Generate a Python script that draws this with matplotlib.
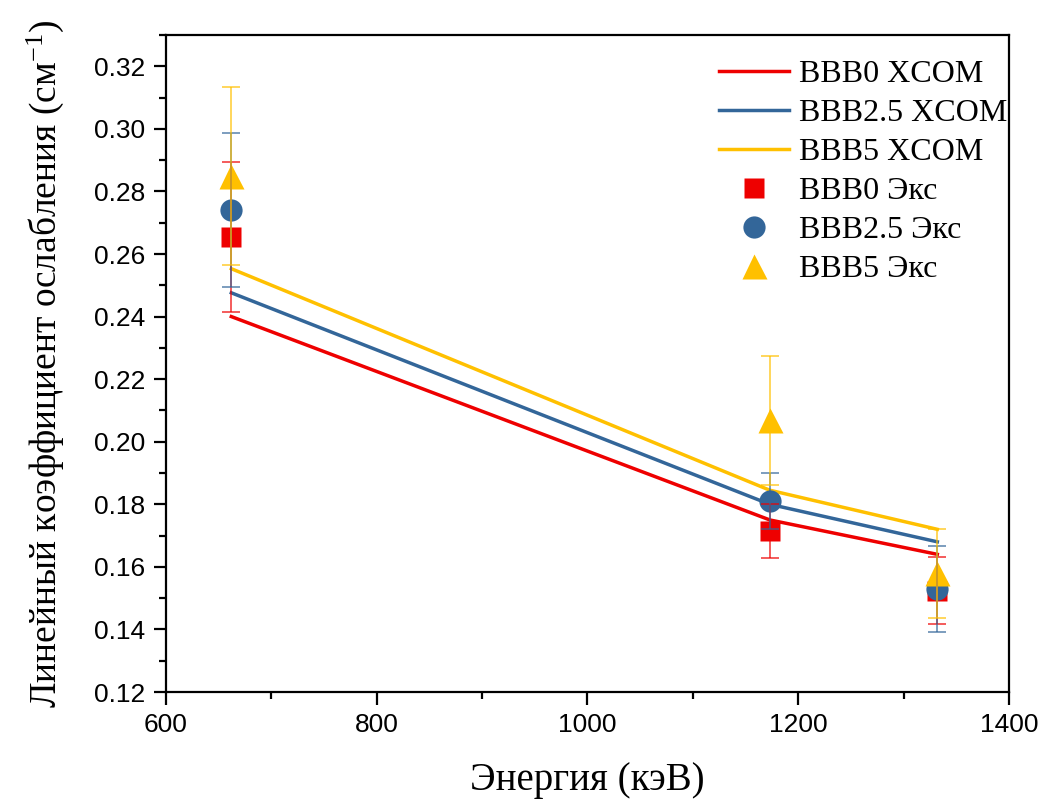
import matplotlib
matplotlib.use("Agg")
import matplotlib.pyplot as plt
from matplotlib.ticker import MultipleLocator

# photon energies, keV
energy = [662, 1173, 1332]

# XCOM calculated linear attenuation coefficients, cm^-1
xcom_bbb0 = [0.240, 0.175, 0.164]
xcom_bbb25 = [0.2476, 0.180, 0.168]
xcom_bbb5 = [0.2553, 0.1845, 0.172]

# measured values and their errors
exp_bbb0 = [0.2655, 0.1715, 0.1523]
err_bbb0 = [0.0239, 0.0087, 0.0107]
exp_bbb25 = [0.2742, 0.1811, 0.1529]
err_bbb25 = [0.0246, 0.0090, 0.0138]
exp_bbb5 = [0.2849, 0.2069, 0.1579]
err_bbb5 = [0.0285, 0.0206, 0.0142]

RED = "#ee0000"
BLUE = "#336699"
YELLOW = "#ffc000"

SERIF = "Liberation Serif"
SANS = "Liberation Sans"

plt.rcParams["mathtext.default"] = "regular"

fig = plt.figure(figsize=(10.42, 8.0), dpi=100)
ax = fig.add_axes([0.1593, 0.135, 0.809, 0.82125])

ax.plot(energy, xcom_bbb0, color=RED, lw=2.5, label="BBB0 XCOM", zorder=2)
ax.plot(energy, xcom_bbb25, color=BLUE, lw=2.5, label="BBB2.5 XCOM", zorder=2)
ax.plot(energy, xcom_bbb5, color=YELLOW, lw=2.5, label="BBB5 XCOM", zorder=2)

exp_series = [
    (exp_bbb0, err_bbb0, RED, "s", 14, "BBB0 Экс"),
    (exp_bbb25, err_bbb25, BLUE, "o", 16, "BBB2.5 Экс"),
    (exp_bbb5, err_bbb5, YELLOW, "^", 18, "BBB5 Экс"),
]
for vals, errs, col, mk, ms, lab in exp_series:
    ax.plot(energy, vals, ls="none", marker=mk, ms=ms, color=col,
            mec="none", label=lab, zorder=3)
for vals, errs, col, mk, ms, lab in exp_series:
    ax.errorbar(energy, vals, yerr=errs, fmt="none", ecolor=col,
                elinewidth=1.2, capsize=6.5, capthick=1.2, alpha=0.75,
                zorder=4)

ax.set_xlim(600, 1400)
ax.set_ylim(0.12, 0.33)
ax.xaxis.set_major_locator(MultipleLocator(200))
ax.xaxis.set_minor_locator(MultipleLocator(100))
ax.yaxis.set_major_locator(MultipleLocator(0.02))
ax.yaxis.set_minor_locator(MultipleLocator(0.01))
ax.yaxis.set_major_formatter(matplotlib.ticker.FormatStrFormatter("%.2f"))

for sp in ax.spines.values():
    sp.set_linewidth(1.6)
ax.tick_params(which="both", direction="out", width=1.6,
               top=False, right=False)
ax.tick_params(which="major", length=9, pad=6)
ax.tick_params(which="minor", length=5)
for lbl in ax.get_xticklabels() + ax.get_yticklabels():
    lbl.set_fontfamily(SANS)
    lbl.set_fontsize(19)

ax.set_xlabel("Энергия (кэВ)", family=SERIF, fontsize=28, labelpad=18)
ax.set_ylabel("Линейный коэффициент ослабления (см$^{-1}$)",
              family=SERIF, fontsize=27, labelpad=20)

ax.legend(loc="upper right", bbox_to_anchor=(1.013, 0.982), frameon=False,
          prop={"family": SERIF, "size": 23}, handlelength=2.2,
          handletextpad=0.3, labelspacing=0.3, borderaxespad=0.0,
          markerscale=1.0)

fig.savefig("out.png", dpi=100)
